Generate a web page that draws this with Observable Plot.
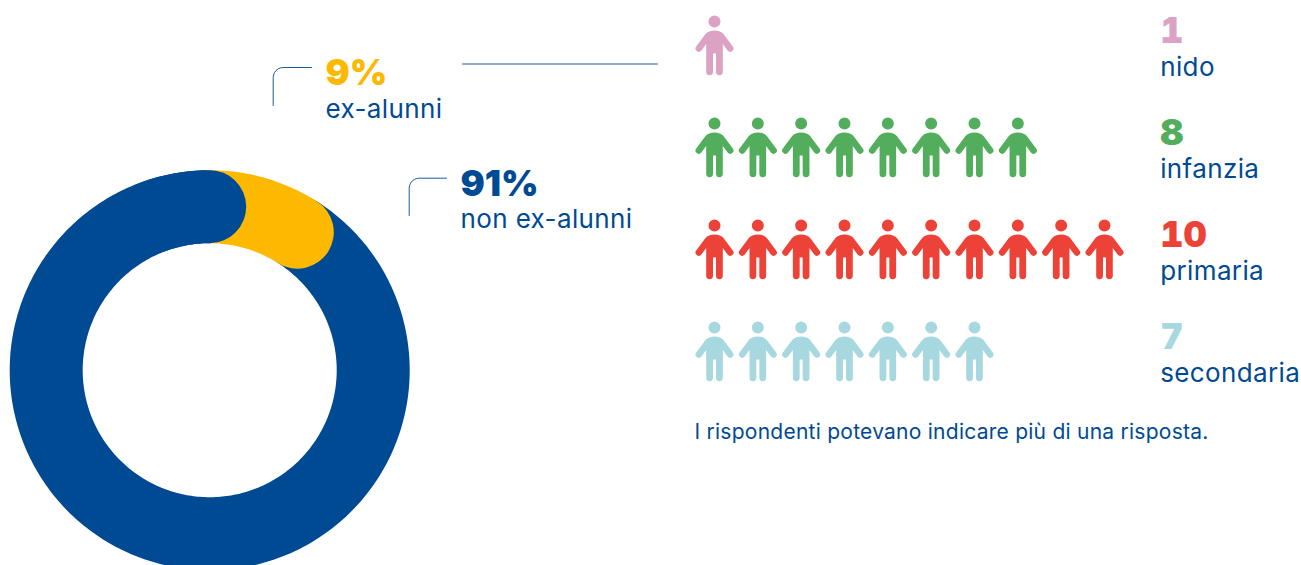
<!DOCTYPE html>
<html lang="it">
<head>
<meta charset="utf-8">
<script src="https://cdn.jsdelivr.net/npm/d3@7"></script>
<script src="https://cdn.jsdelivr.net/npm/@observablehq/plot@0.6"></script>
<style>
html,body{margin:0;padding:0;background:#fff;overflow:hidden}
#chart{position:relative;width:1301px;height:565px}
svg{display:block}
g[font-size="26"]{letter-spacing:.38px}
g[font-size="21"]{letter-spacing:.25px}
</style>
</head>
<body>
<div id="chart"></div>
<script>
// Data
const shareLabels = ["ex-alunni", "non ex-alunni"];
const shareValues = [9, 91];
const categories = ["nido", "infanzia", "primaria", "secondaria"];
const counts = [1, 8, 10, 7];
const colors = ["#DCA2C4", "#52AE5C", "#EC4237", "#A8D8DF"];
const note = "I rispondenti potevano indicare più di una risposta.";

const BLUE = "#004A93", YELLOW = "#FDB900";
const FONT = "Inter, 'Noto Sans', sans-serif";
const labelStyle = {fontFamily: FONT, fontWeight: 400, fontSize: 26, textAnchor: "start", lineAnchor: "bottom"};
const numberStyle = {fontFamily: FONT, fontWeight: 900, fontSize: 36, textAnchor: "start", lineAnchor: "bottom"};

// Donut geometry, driven by the shares
const cx = 209.2, cy = 369.7, midR = 163.5, ringW = 73;
const total = d3.sum(shareValues);
const split = shareValues[0] / total * 360;
const arc = (a0, a1) => {
  const n = Math.max(2, Math.ceil(Math.abs(a1 - a0)));
  return d3.range(n + 1).map(i => {
    const t = (a0 + (a1 - a0) * i / n) * Math.PI / 180;
    return {x: cx + midR * Math.sin(t), y: cy - midR * Math.cos(t)};
  });
};
const ringLine = (pts, stroke) => Plot.line(pts, {
  x: "x", y: "y", stroke, strokeWidth: ringW, strokeLinecap: "round", strokeLinejoin: "round"
});

// Rounded leader: up from (x0,y0) then right to (x1,y1)
const leader = (x0, y0, x1, y1, r) => {
  const corner = d3.range(7).map(i => {
    const t = i / 6 * Math.PI / 2;
    return {x: x0 + r - r * Math.cos(t), y: y1 + r - r * Math.sin(t)};
  });
  return [{x: x0, y: y0}, ...corner, {x: x1, y: y1}];
};
const leaderLine = pts => Plot.line(pts, {x: "x", y: "y", stroke: BLUE, strokeWidth: 1, strokeOpacity: 0.9});

const calloutText = (x, y, pct, label, color) => [
  Plot.text([pct], {x: () => x, y: () => y, text: d => d, fill: color, ...numberStyle}),
  Plot.text([label], {x: () => x, y: () => y + 32.5, text: d => d, fill: BLUE, ...labelStyle})
];

const donutLayer = Plot.plot({
  width: 1301, height: 565, margin: 0,
  x: {domain: [0, 1301], range: [0, 1301], axis: null},
  y: {domain: [0, 565], range: [0, 565], axis: null},
  marks: [
    ringLine(arc(split, 360), BLUE),
    ringLine(arc(0, split), YELLOW),
    ringLine(arc(340, 360), BLUE),
    leaderLine(leader(272.7, 105, 311, 67, 10)),
    leaderLine(leader(408.7, 215, 446, 177.7, 10)),
    leaderLine([{x: 462, y: 63.5}, {x: 657, y: 63.5}]),
    ...calloutText(325, 84.5, shareValues[0] + "%", shareLabels[0], YELLOW),
    ...calloutText(460, 195, shareValues[1] + "%", shareLabels[1], BLUE),
    Plot.text([note], {x: () => 694, y: () => 438, text: d => d, fill: BLUE, fontFamily: FONT, fontSize: 21,
      textAnchor: "start", lineAnchor: "bottom"})
  ]
});

// Person pictogram as a custom Plot symbol (unit: px at r = 10)
const person = {
  draw(c, size) {
    const s = Math.sqrt(size / Math.PI) / 10;
    const P = (x, y) => [x * s, y * s];
    c.moveTo(...P(6, -24));
    c.arc(0, -24 * s, 6 * s, 0, 2 * Math.PI);
    c.closePath();
    c.moveTo(...P(0, -15));
    c.quadraticCurveTo(...P(6, -15), ...P(9, -11.5));
    c.lineTo(...P(18.3, 1));
    c.arc(15.7 * s, 3 * s, 3.3 * s, -0.66, 2.48);
    c.lineTo(...P(8.3, -1.5));
    c.lineTo(...P(8.3, 26.3));
    c.arc(4.9 * s, 26.3 * s, 3.4 * s, 0, Math.PI);
    c.lineTo(...P(1.5, 8));
    c.lineTo(...P(-1.5, 8));
    c.lineTo(...P(-1.5, 26.3));
    c.arc(-4.9 * s, 26.3 * s, 3.4 * s, 0, Math.PI);
    c.lineTo(...P(-8.3, -1.5));
    c.lineTo(...P(-13.1, 5));
    c.arc(-15.7 * s, 3 * s, 3.3 * s, 0.66, 3.8);
    c.lineTo(...P(-9, -11.5));
    c.quadraticCurveTo(...P(-6, -15), ...P(0, -15));
    c.closePath();
  }
};

const people = categories.flatMap((cat, k) =>
  d3.range(counts[k]).map(i => ({cat, i})));
const rows = categories.map((cat, k) => ({cat, n: counts[k]}));
const labelColumn = 10.285;

const pictoLayer = Plot.plot({
  width: 1301, height: 565, margin: 0,
  style: {position: "absolute", left: "0", top: "0", background: "none"},
  x: {domain: [0, 9], range: [714, 1104], axis: null},
  y: {type: "point", domain: categories, range: [45, 351], padding: 0, axis: null},
  color: {type: "ordinal", domain: categories, range: colors},
  marks: [
    Plot.dot(people, {x: "i", y: "cat", fill: "cat", stroke: "none", r: 10, symbol: person}),
    Plot.text(rows, {x: () => labelColumn, y: "cat", text: "n", fill: "cat", ...numberStyle, dy: -2.5}),
    Plot.text(rows, {x: () => labelColumn, y: "cat", text: "cat", fill: () => BLUE, ...labelStyle, dy: 30.5})
  ]
});

const root = document.getElementById("chart");
root.append(donutLayer, pictoLayer);
</script>
</body>
</html>
